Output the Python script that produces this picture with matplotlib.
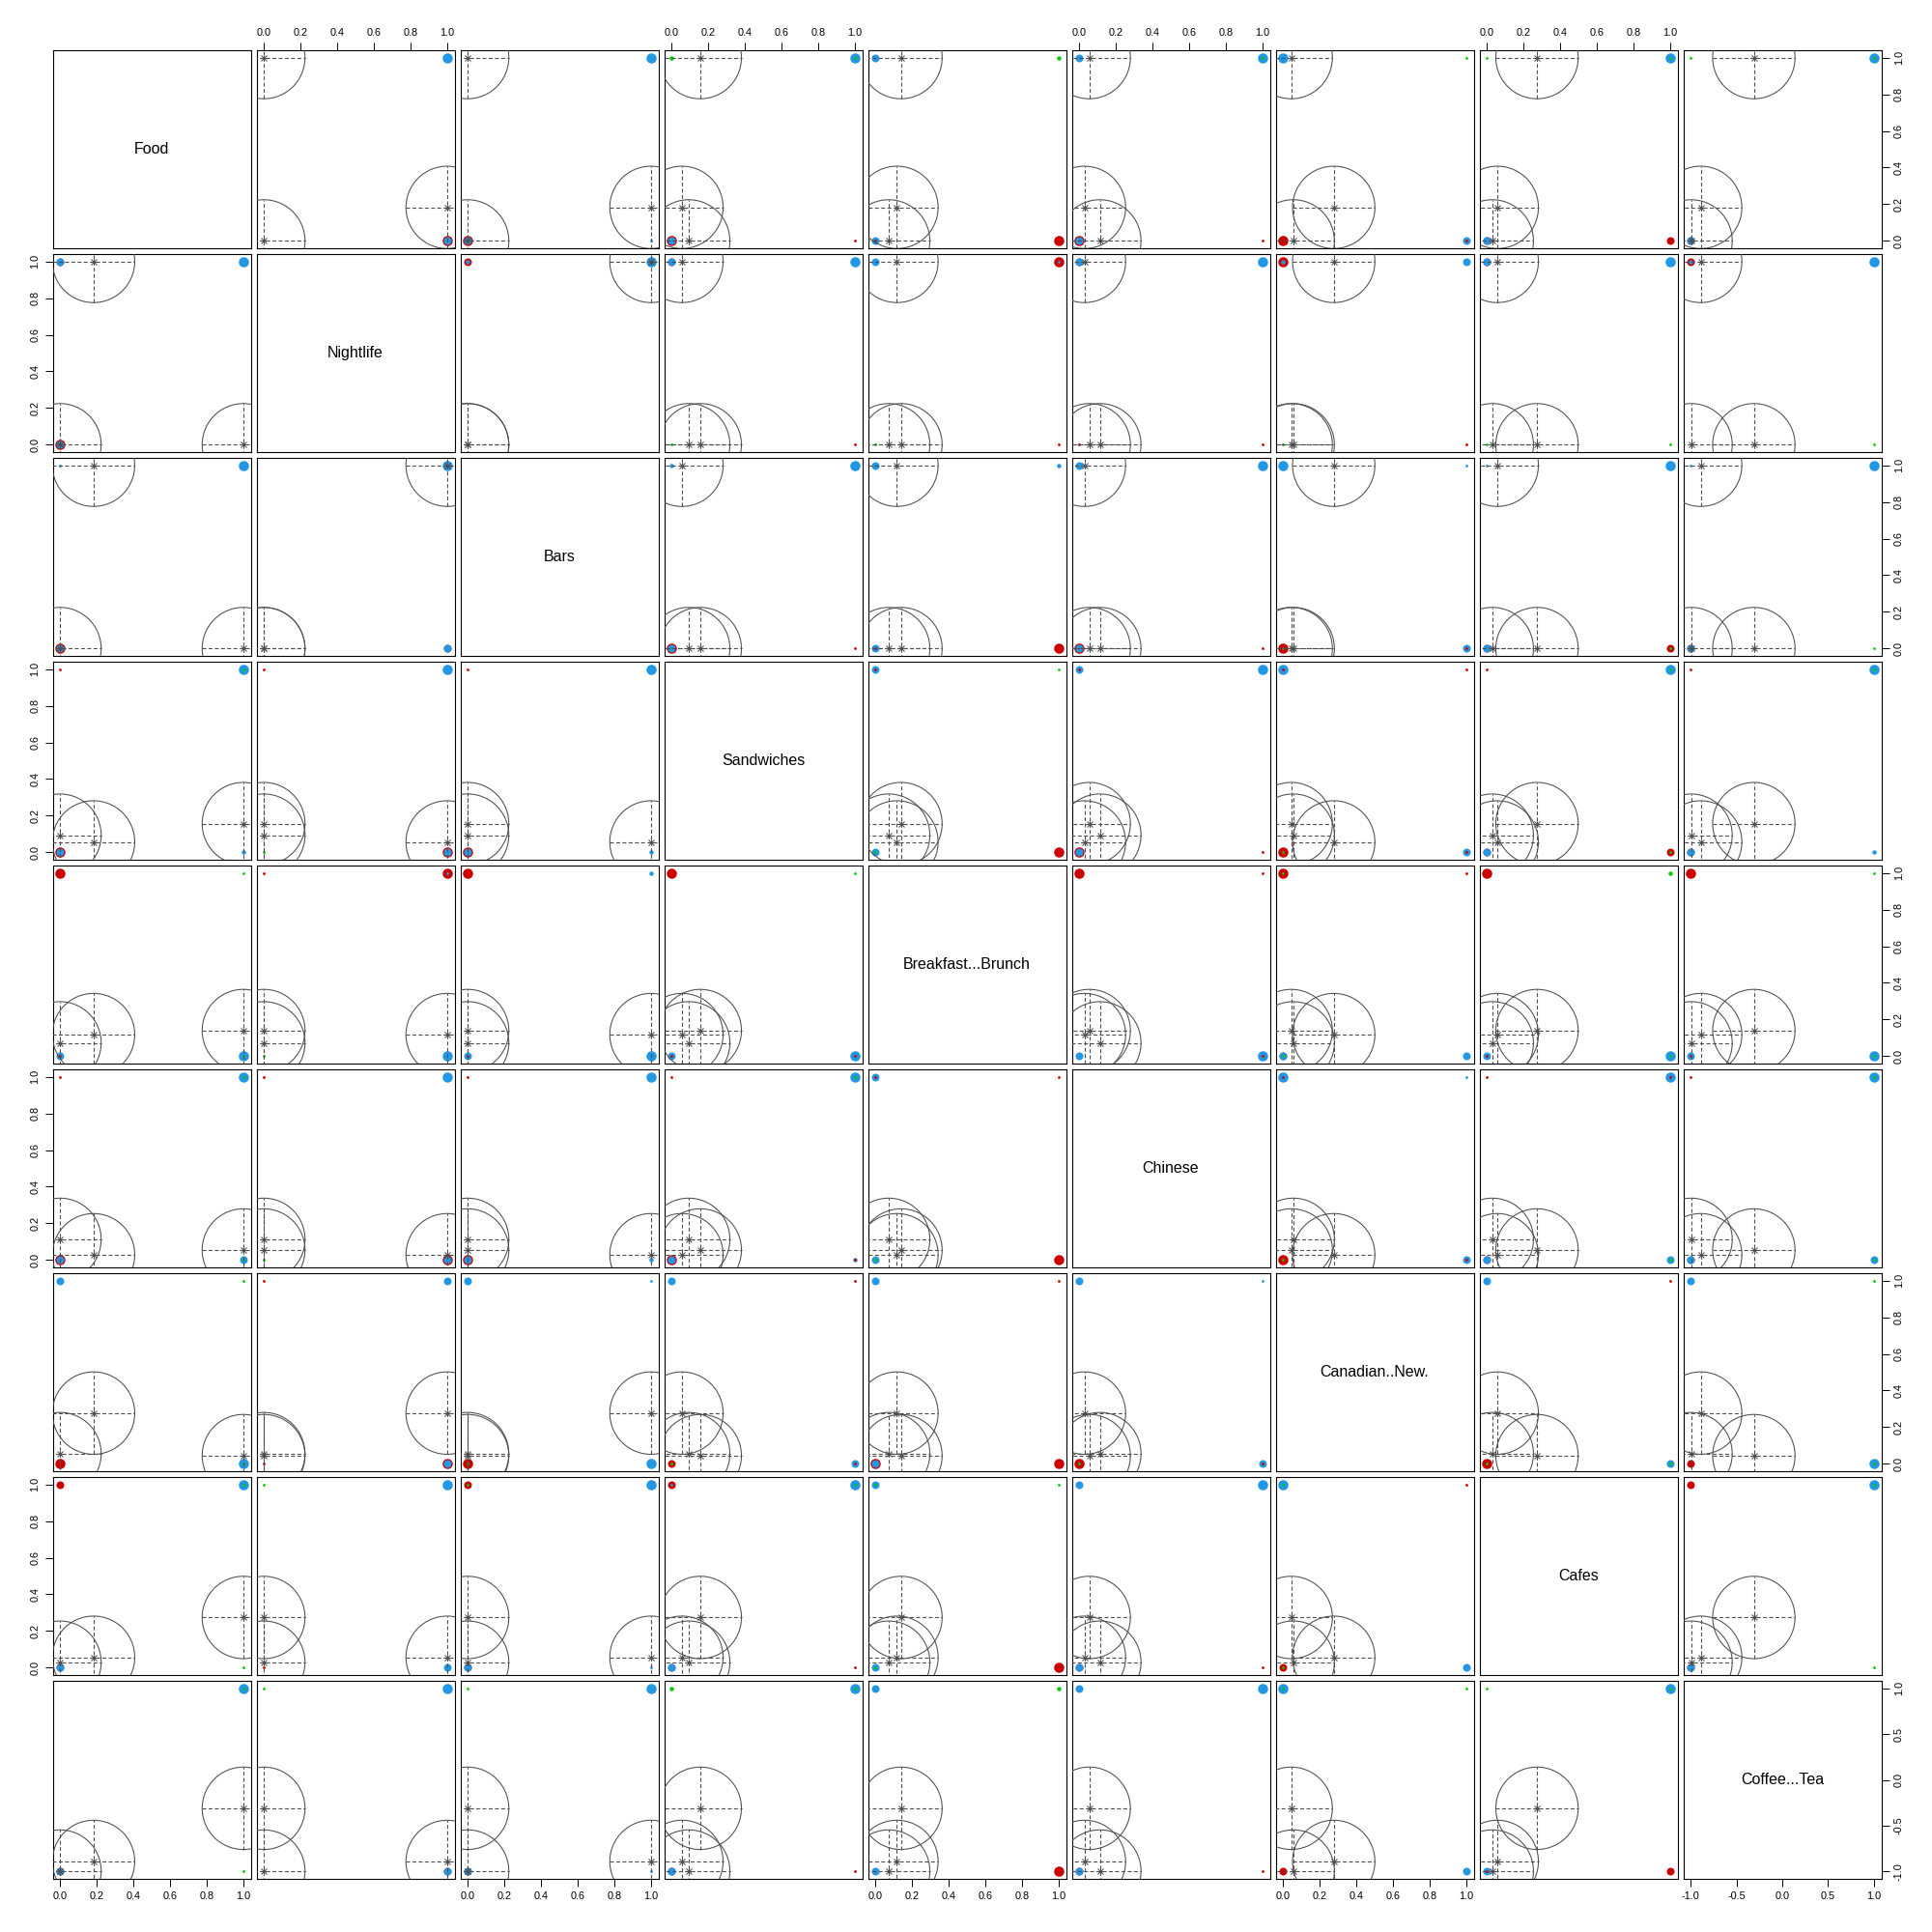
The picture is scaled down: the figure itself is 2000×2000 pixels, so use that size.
"""Pairs plot of binary category dummies with k-means centres (3 clusters)."""
import matplotlib
matplotlib.use("Agg")
import matplotlib.pyplot as plt
from matplotlib.patches import Circle

plt.rcParams["font.family"] = ["Liberation Sans", "DejaVu Sans"]

variables = ["Food", "Nightlife", "Bars", "Sandwiches", "Breakfast...Brunch",
             "Chinese", "Canadian..New.", "Cafes", "Coffee...Tea"]
# coding of each dummy (Coffee...Tea is coded -1 / 1)
low = [0, 0, 0, 0, 0, 0, 0, 0, -1]
high = [1, 1, 1, 1, 1, 1, 1, 1, 1]

# cluster centres, one value per variable
centre_a = [1.0, 0.0, 0.0, 0.157, 0.14, 0.055, 0.045, 0.274, -0.31]
centre_b = [0.0, 0.0, 0.0, 0.094, 0.073, 0.113, 0.056, 0.03, -0.995]
centre_c = [0.183, 1.0, 1.0, 0.057, 0.118, 0.029, 0.277, 0.057, -0.89]

# points per panel, corners (x,y) = lo-lo, lo-hi, hi-lo, hi-hi
# each corner lists colour+size layers, bottom first; "-" = nothing
row_food = [None, "R1 - R4B3 B4", "R4B3 - B1 B4", "R4B3 G2 R1 B4G1",
            "B3R1 B3 R4 G2", "R4B3 B3 R1 B4G1", "R4 B4 B3R1 G1",
            "R3B3 G1 R3 B4G1", "R3B3 G1 - B4G1"]
row_nightlife = ["R4B3 R3B3 - B4", None, "- R3B2 - B4", "G1 R3B3 R1 B4",
                 "G1 B3 R1 R4B1", "R1 R3B3 R1 B4", "G1 R4B2 R1 B3",
                 "G1 R3B3 G1 B4", "- R3B2 G1 B4"]
row_bars = ["R4B3 B1 - B4", "- - R3B3 B4", None, "R4B3 B2 R1 B4",
            "B3R1 B3 R4 B2", "R4B3 B3 R1 B4", "R4G1 B4 B3R1 B1",
            "R3B3 B1 R3G1 B4", "R3B3 B1 G1 B4"]
row_sandwiches = ["R4B3 R1 B2 B4G1", "G1 R1 R4B3 B4", "R4B3 R1 B2 B4", None,
                  "B3G1 B3R1 R4 G1", "R4B3 B3R1 R1 B4", "R4G1 B4R1 B3R1 R1",
                  "R3B3 R1 R3G1 B4G1", "R3B3 R1 B2 B4G1"]
row_breakfast = ["B3R1 R4 B4G1 G1", "G1 R1 B4 R4B1", "B3R1 R4 B4 B2",
                 "B3R1 R4 B4R1 G1", None, "B3 R4 B4R1 R1", "R3B3G1 R4G1 B3 R1",
                 "B3R1 R4 B4G1 G2", "B3R1 R4 B4G1 G1"]
row_chinese = ["R4B3 R1 B3G1 B4G1", "G1 R1 R4B3 B4", "R4B3 R1 B2 B4",
               "R4B3 R1 B2R1 B4G1", "B3G1 B3R1 R4 R1", None,
               "R4G1 B4R1 B3R1 B1", "R3B3 R1 B3G1 B4R1", "R3B3 R1 B3G1 B4G1"]
row_canadian = ["R4 B3 B4G1 G1", "R1 R1 R4B3 B3", "R4G1 B3 B4 B1",
                "R3G1 B3 B3R1 R1", "R4B3 B3 R4 R1", "R4G1 B3 B3R1 B1", None,
                "R4G1 B3 B3G1 R1", "R3 B3 B4G1 G1"]
row_cafes = ["R3B3 R3 G1 B4G1", "R1 G1 B3 B4", "R3B3 R3G1 B1 B4",
             "R3B3 R3B1 R1 B4G1", "B3G1 B3G1 R4 G1", "R3B3 B3 R1 B4",
             "R3G1 B4G1 B3 R1", None, "R3B3 R3 G1 B4G1"]
row_coffee = ["R3B3 - G1 B4G1", "- G1 R3B3 B4", "R3B3 G1 B1 B4",
              "R3B3 G2 R1 B4G1", "B3 B3 R4 G2", "R3B3 B3 R1 B4",
              "R3 B4G1 B3 G1", "B3R1 G1 R3 B4G1", None]
panel_points = [row_food, row_nightlife, row_bars, row_sandwiches,
                row_breakfast, row_chinese, row_canadian, row_cafes, row_coffee]

colours = {"R": "#CD0000", "G": "#00CD00", "B": "#2297E6"}
dot_px = {"1": 2.8, "2": 4.5, "3": 8.0, "4": 10.5}
grey = "#4D4D4D"
radius = 0.208  # circle radius, fraction of panel side

fig = plt.figure(figsize=(20, 20), dpi=100)
n = len(variables)
left0, top0, side, step = 54.5, 52.0, 205.0, 211.0


def frac(v, k):
    lo, hi = low[k], high[k]
    pad = 0.04 * (hi - lo)
    return (v - lo + pad) / (hi - lo + 2 * pad)


def ticks(k):
    if low[k] == -1:
        return [-1.0, -0.5, 0.0, 0.5, 1.0]
    return [0.0, 0.2, 0.4, 0.6, 0.8, 1.0]


tick_kw = dict(length=5.5, width=0.7, pad=4, labelsize=7.8)

for i in range(n):
    for j in range(n):
        x0 = left0 + j * step
        y0 = top0 + i * step
        ax = fig.add_axes([x0 / 2000, 1 - (y0 + side) / 2000,
                           side / 2000, side / 2000])
        padx = 0.04 * (high[j] - low[j])
        pady = 0.04 * (high[i] - low[i])
        ax.set_xlim(low[j] - padx, high[j] + padx)
        ax.set_ylim(low[i] - pady, high[i] + pady)
        for s in ax.spines.values():
            s.set_linewidth(0.8)
            s.set_color("black")
        ax.set_xticks([])
        ax.set_yticks([])

        if i == 0 and j % 2 == 1:
            t = ticks(j)
            ax.set_xticks(t, [f"{v:.1f}" for v in t])
            ax.xaxis.set_ticks_position("top")
            ax.tick_params(axis="x", **tick_kw)
        if i == n - 1 and j % 2 == 0:
            t = ticks(j)
            ax.set_xticks(t, [f"{v:.1f}" for v in t])
            ax.xaxis.set_ticks_position("bottom")
            ax.tick_params(axis="x", **tick_kw)
        if j == 0 and i % 2 == 1:
            t = ticks(i)
            ax.set_yticks(t, [f"{v:.1f}" for v in t], rotation=90, va="center")
            ax.yaxis.set_ticks_position("left")
            ax.tick_params(axis="y", **tick_kw)
        if j == n - 1 and i % 2 == 0:
            t = ticks(i)
            ax.set_yticks(t, [f"{v:.1f}" for v in t], rotation=90, va="center")
            ax.yaxis.set_ticks_position("right")
            ax.tick_params(axis="y", **tick_kw)

        if i == j:
            ax.text(0.5, 0.5, variables[i], transform=ax.transAxes,
                    ha="center", va="center", fontsize=11.5)
            continue

        corners = [(low[j], low[i]), (low[j], high[i]),
                   (high[j], low[i]), (high[j], high[i])]
        for (cx, cy), spec in zip(corners, panel_points[i][j].split()):
            if spec == "-":
                continue
            for c, sz in zip(spec[::2], spec[1::2]):
                d = dot_px[sz] * 72 / 100
                ax.scatter([cx], [cy], s=d ** 2, color=colours[c],
                           linewidths=0, zorder=2, clip_on=False)

        for centre in (centre_a, centre_b, centre_c):
            fx, fy = frac(centre[j], j), frac(centre[i], i)
            ax.add_patch(Circle((fx, fy), radius, transform=ax.transAxes,
                                fill=False, ec=grey, lw=0.75, zorder=3))
            ax.plot([fx - radius, fx + radius], [fy, fy],
                    transform=ax.transAxes, color=grey, lw=0.8,
                    ls=(0, (3.6, 2.2)), zorder=3)
            ax.plot([fx, fx], [fy - radius, fy + radius],
                    transform=ax.transAxes, color=grey, lw=0.8,
                    ls=(0, (3.6, 2.2)), zorder=3)
            for m in ("+", "x"):
                ax.plot([fx], [fy], transform=ax.transAxes, marker=m,
                        ms=5, mew=0.75, color=grey, zorder=4)

fig.savefig("out.png", dpi=100)
